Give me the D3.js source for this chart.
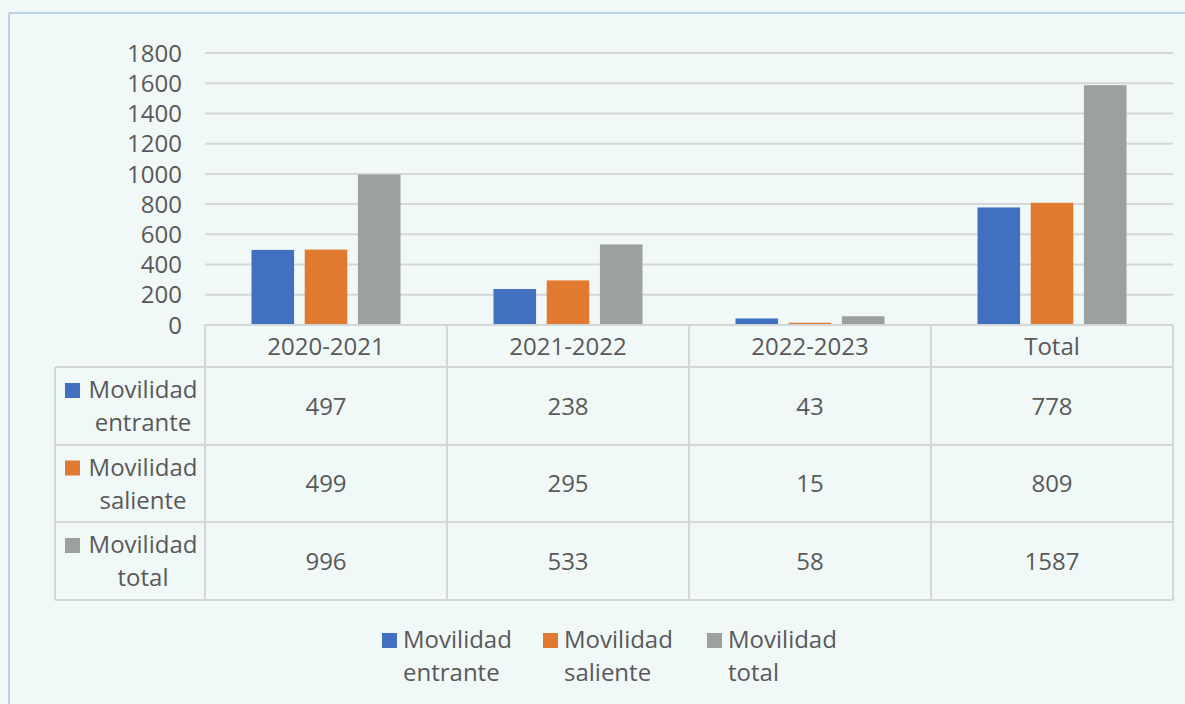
<!DOCTYPE html>
<html>
<head>
<meta charset="utf-8">
<script src="https://d3js.org/d3.v7.min.js"></script>
<style>
  body { margin: 0; background: #f1f8f8; }
  svg text { font-family: "Open Sans", "Noto Sans", sans-serif; fill: #595959; }
</style>
</head>
<body>
<svg id="chart" width="1185" height="704"></svg>
<script>
// data
const categories = ["2020-2021", "2021-2022", "2022-2023", "Total"];
const seriesNames = ["Movilidad entrante", "Movilidad saliente", "Movilidad total"];
const entrante = [497, 238, 43, 778];
const saliente = [499, 295, 15, 809];
const total = [996, 533, 58, 1587];
const yTicks = [0, 200, 400, 600, 800, 1000, 1200, 1400, 1600, 1800];
const colors = ["#4170c1", "#e07a30", "#9ca1a0"];

const values = [entrante, saliente, total];

const svg = d3.select("#chart");
const gridCol = "#d3d7d7";
const fs = 24;

// frame
svg.append("line").attr("x1", 9).attr("x2", 1185).attr("y1", 13).attr("y2", 13)
  .attr("stroke", "#a9c9dc").attr("stroke-width", 1.5);
svg.append("line").attr("x1", 9).attr("x2", 9).attr("y1", 13).attr("y2", 704)
  .attr("stroke", "#a9c9dc").attr("stroke-width", 1.5);

const plotLeft = 205, plotRight = 1173, plotTop = 53, base = 325;

const x = d3.scaleBand().domain(categories).range([plotLeft, plotRight]).padding(0);
const xs = d3.scaleBand().domain(seriesNames)
  .range([46.5, x.bandwidth() - 46.5]).paddingInner(0.2).paddingOuter(0);
const y = d3.scaleLinear().domain([0, 1800]).range([base, plotTop]);

// gridlines
svg.append("g").selectAll("line").data(yTicks.slice(1)).join("line")
  .attr("x1", plotLeft).attr("x2", plotRight)
  .attr("y1", d => y(d)).attr("y2", d => y(d))
  .attr("stroke", gridCol).attr("stroke-width", 2);

// y tick labels
svg.append("g").selectAll("text").data(yTicks).join("text")
  .attr("x", 182).attr("y", d => y(d))
  .attr("dy", "0.36em").attr("text-anchor", "end")
  .attr("font-size", fs).text(d => d);

// bars
seriesNames.forEach((s, si) => {
  svg.append("g").selectAll("rect").data(categories).join("rect")
    .attr("x", c => x(c) + xs(s))
    .attr("width", xs.bandwidth())
    .attr("y", (c, i) => y(values[si][i]))
    .attr("height", (c, i) => base - y(values[si][i]))
    .attr("fill", colors[si]);
});

// data table
const rowTop = [base, 367, 445, 522, 600];
const tableLeft = 55;
const tbl = svg.append("g").attr("stroke", gridCol).attr("stroke-width", 2);
tbl.append("line").attr("x1", plotLeft).attr("x2", plotRight).attr("y1", base).attr("y2", base);
rowTop.slice(1).forEach(ry => {
  tbl.append("line").attr("x1", tableLeft).attr("x2", plotRight).attr("y1", ry).attr("y2", ry);
});
tbl.append("line").attr("x1", tableLeft).attr("x2", tableLeft).attr("y1", rowTop[1]).attr("y2", rowTop[4]);
categories.forEach(c => {
  tbl.append("line").attr("x1", x(c)).attr("x2", x(c)).attr("y1", base).attr("y2", rowTop[4]);
});
tbl.append("line").attr("x1", plotRight).attr("x2", plotRight).attr("y1", base).attr("y2", rowTop[4]);

// header labels
svg.append("g").selectAll("text").data(categories).join("text")
  .attr("x", c => x(c) + x.bandwidth() / 2)
  .attr("y", (rowTop[0] + rowTop[1]) / 2).attr("dy", "0.36em")
  .attr("text-anchor", "middle").attr("font-size", fs).text(c => c);

// table rows
seriesNames.forEach((s, si) => {
  const r0 = rowTop[si + 1], r1 = rowTop[si + 2];
  const mid = (r0 + r1) / 2;
  const words = s.split(" ");
  svg.append("rect").attr("x", 65).attr("y", mid - 23).attr("width", 15).attr("height", 15)
    .attr("fill", colors[si]);
  const t = svg.append("text").attr("text-anchor", "middle").attr("font-size", fs);
  t.append("tspan").attr("x", 143).attr("y", mid - 8).text(words[0]);
  t.append("tspan").attr("x", 143).attr("y", mid + 25).text(words[1]);
  svg.append("g").selectAll("text").data(values[si]).join("text")
    .attr("x", (d, i) => x(categories[i]) + x.bandwidth() / 2)
    .attr("y", mid).attr("dy", "0.36em")
    .attr("text-anchor", "middle").attr("font-size", fs).text(d => d);
});

// legend
const legendX = [382, 543, 707];
seriesNames.forEach((s, si) => {
  const words = s.split(" ");
  svg.append("rect").attr("x", legendX[si]).attr("y", 633).attr("width", 15).attr("height", 15)
    .attr("fill", colors[si]);
  const t = svg.append("text").attr("font-size", fs);
  t.append("tspan").attr("x", legendX[si] + 21).attr("y", 648).text(words[0]);
  t.append("tspan").attr("x", legendX[si] + 21).attr("y", 681).text(words[1]);
});
</script>
</body>
</html>
